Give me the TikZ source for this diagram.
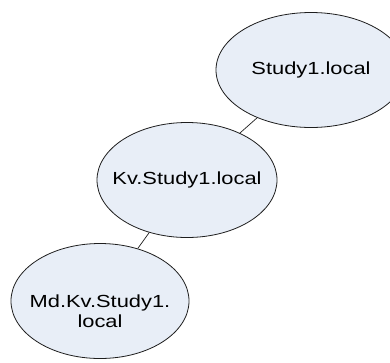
\documentclass[tikz,border=0pt]{standalone}
\usepackage{fontspec}
\setmainfont{Liberation Sans}
\usetikzlibrary{shapes.geometric}
\definecolor{domainfill}{RGB}{232,238,247}
\definecolor{domainline}{RGB}{30,30,30}
\tikzset{
  domain/.style={ellipse, draw=domainline, line width=0.8pt, fill=domainfill,
    inner sep=0pt, minimum width=#1, minimum height=115pt},
  domaintext/.style={inner sep=0pt, align=center,
    font=\fontsize{17.5}{20}\selectfont},
  link/.style={draw=domainline, line width=0.7pt}
}
\newcommand{\wide}[1]{\scalebox{1.25}[1]{#1}}
\begin{document}
\begin{tikzpicture}[x=1pt,y=-1pt]
  \clip (0,0) rectangle (390,362);
  \fill[white] (0,0) rectangle (390,362);
  % domain hierarchy, root at the top right
  \node[domain=190pt] (root) at (311,70) {};
  \node[domain=180pt] (kv) at (187,180) {};
  \node[domain=178pt] (md) at (100,301) {};
  \node[domaintext] (roottext) at (root.center) {\wide{Study1.local}};
  \node[domaintext] (kvtext) at (kv.center) {\wide{Kv.Study1.local}};
  \node[domaintext] (mdtext) at (100,313)
    {\wide{\begin{tabular}{@{}c@{}}Md.Kv.Study1.\\local\end{tabular}}};
  \draw[link] (root) -- (kv);
  \draw[link] (kv) -- (md);
\end{tikzpicture}
\end{document}
